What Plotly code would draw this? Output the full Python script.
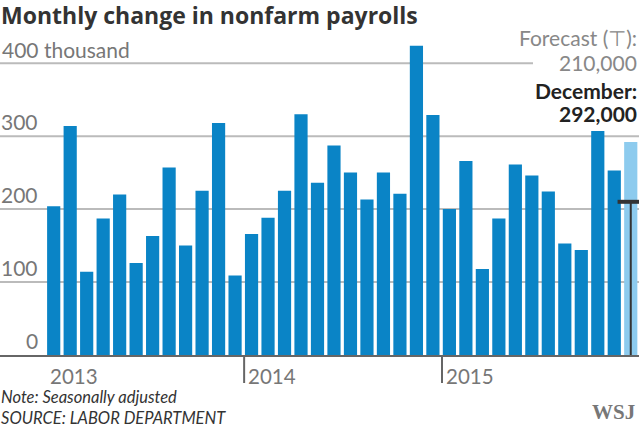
import plotly.graph_objects as go

months = list(range(36))  # Jan 2013 .. Dec 2015
payrolls = [204, 314, 114, 187, 220, 126, 163, 257, 150, 225, 318, 109,
            166, 188, 225, 330, 236, 287, 250, 213, 250, 221, 424, 329,
            200, 266, 118, 187, 261, 246, 224, 153, 144, 307, 253, 292]
forecast = 210
year_labels = ["2013", "2014", "2015"]
year_starts = [0, 12, 24]
y_ticks = [0, 100, 200, 300, 400]
y_tick_text = ["0", "100", "200", "300", "400 thousand"]

BLUE = "#0a84c6"
LIGHT = "#8dcbee"
colors = [BLUE] * 35 + [LIGHT]

W, H = 639, 427
MT, MB = 34, 72
PH = H - MT - MB
LBL = "#777777"


def py(ypx):
    # pixel row -> paper y
    return (H - MB - ypx) / PH


fig = go.Figure()
fig.add_trace(go.Bar(x=months, y=payrolls, marker=dict(color=colors, line=dict(width=0)),
                     width=0.8, hoverinfo="skip"))
# forecast T marker
fig.add_trace(go.Scatter(x=[months[-1], months[-1]], y=[0, forecast], mode="lines",
                         line=dict(color="#333333", width=2), hoverinfo="skip"))
fig.add_trace(go.Scatter(x=[months[-1] - 0.8, months[-1] + 0.55], y=[forecast, forecast], mode="lines",
                         line=dict(color="#333333", width=4), hoverinfo="skip"))

shapes = []
for t in y_ticks[1:]:
    x1 = 533 / W if t == 400 else 1
    shapes.append(dict(type="line", xref="paper", yref="y", x0=0, x1=x1, y0=t, y1=t,
                       line=dict(color="#bbbbbb", width=2), layer="below"))
for ys in year_starts[1:]:
    shapes.append(dict(type="line", xref="x", yref="paper", x0=ys - 0.45, x1=ys - 0.45,
                       y0=0, y1=py(383), line=dict(color="#666666", width=2)))

annotations = []
for t, txt in zip(y_ticks, y_tick_text):
    if t == 400:
        annotations.append(dict(x=0, xref="paper", y=t, yref="y", text=txt, showarrow=False,
                                xanchor="left", yanchor="bottom", xshift=0, yshift=-1,
                                font=dict(family="Lato", size=21, color=LBL)))
    else:
        annotations.append(dict(x=40 / W, xref="paper", y=t, yref="y", text=txt, showarrow=False,
                                xanchor="right", yanchor="bottom", yshift=0,
                                font=dict(family="Lato", size=21, color=LBL)))
for lab, ys in zip(year_labels, year_starts):
    annotations.append(dict(x=ys - 0.45, xref="x", y=py(376), yref="paper", text=lab, showarrow=False,
                            xanchor="left", yanchor="middle", xshift=2,
                            font=dict(family="Lato", size=20.5, color=LBL)))

annotations.append(dict(x=0, xref="paper", y=py(15), yref="paper",
                        text="<b>Monthly change in nonfarm payrolls</b>",
                        showarrow=False, xanchor="left", yanchor="middle", xshift=-1,
                        font=dict(family="Open Sans", size=23, color="#333333")))

right_texts = [
    ("Forecast (⊤):", 37, "#888888"),
    ("210,000", 62, "#888888"),
    ("<b>December:</b>", 90, "#222222"),
    ("<b>292,000</b>", 113, "#222222"),
]
for txt, ypx, col in right_texts:
    annotations.append(dict(x=1, xref="paper", y=py(ypx), yref="paper", text=txt,
                            showarrow=False, xanchor="right", yanchor="middle", xshift=0,
                            font=dict(family="Lato", size=21, color=col)))

annotations += [
    dict(x=0, xref="paper", y=py(408), yref="paper",
         text="<i>Note: Seasonally adjusted</i><br><i>SOURCE: LABOR DEPARTMENT</i>",
         showarrow=False, xanchor="left", yanchor="middle", align="left", borderpad=0,
         font=dict(family="Lato", size=16.5, color="#333333")),
    dict(x=1, xref="paper", y=py(412), yref="paper", text="<b>WSJ</b>",
         showarrow=False, xanchor="right", yanchor="middle", xshift=-2,
         font=dict(family="Liberation Serif", size=21, color="#777777")),
]

fig.update_layout(
    width=W, height=H,
    margin=dict(l=0, r=0, t=MT, b=MB),
    paper_bgcolor="white", plot_bgcolor="white",
    showlegend=False, bargap=0.2,
    xaxis=dict(range=[-3.257, 35.5], showgrid=False, zeroline=False, showticklabels=False,
               ticks="", showline=True, linecolor="#666666", linewidth=2, fixedrange=True),
    yaxis=dict(range=[0, 440], showgrid=False, zeroline=False, showticklabels=False,
               ticks="", fixedrange=True),
    shapes=shapes, annotations=annotations,
)

fig.write_html("out.html", config={"displayModeBar": False},
               post_script="document.body.style.margin='0';document.body.style.overflow='hidden';")
